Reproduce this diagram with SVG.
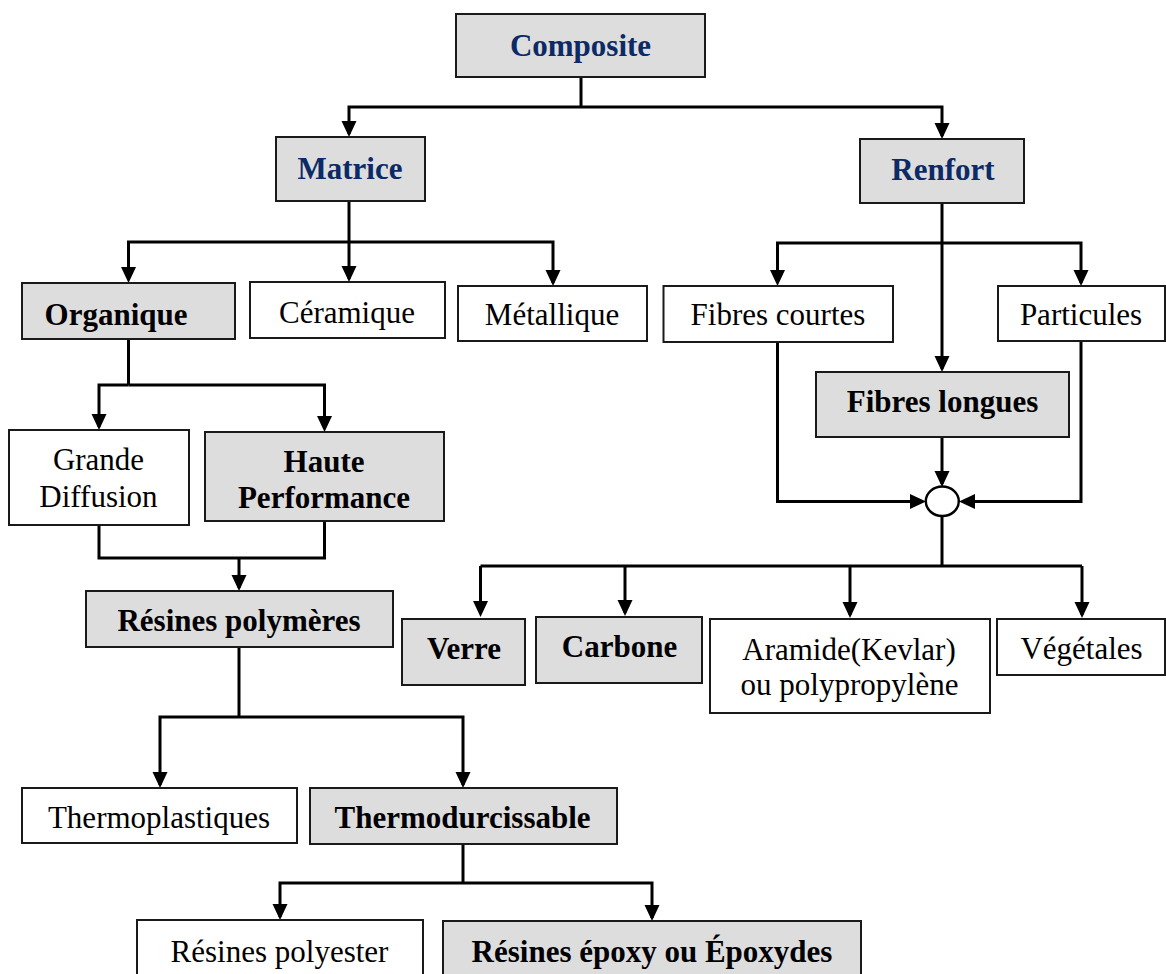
<svg xmlns="http://www.w3.org/2000/svg" width="1166" height="974" viewBox="0 0 1166 974">
<defs>
<marker id="arr" markerUnits="userSpaceOnUse" markerWidth="16" markerHeight="16" viewBox="0 0 16 16" refX="13" refY="8" orient="auto">
<path d="M0,0.5 L16,8 L0,15.5 z" fill="#000"/>
</marker>
<style>
.box{fill:#fff;stroke:#1a1a1a;stroke-width:2}
.g{fill:#dddddd}
.c{fill:none;stroke:#000;stroke-width:3}
.a{marker-end:url(#arr)}
text{font-family:"Liberation Serif","Times New Roman",serif;font-size:31px;fill:#000;text-anchor:middle}
.b{font-weight:bold}
.t{font-weight:bold;fill:#0b2a66}
</style>
</defs>
<rect width="1166" height="974" fill="#fff"/>
<g id="connectors">
<path class="c" d="M581,77 V107"/>
<path class="c a" d="M581,107 H349 V134"/>
<path class="c a" d="M581,107 H942 V136"/>
<path class="c" d="M349,201 V242"/>
<path class="c a" d="M349,242 H128.5 V280"/>
<path class="c a" d="M349,242 V279"/>
<path class="c a" d="M349,242 H553 V283"/>
<path class="c" d="M128.5,339 V385"/>
<path class="c a" d="M128.5,385 H99 V427"/>
<path class="c a" d="M128.5,385 H324.5 V429"/>
<path class="c" d="M99,525 V558 H324.5 V521"/>
<path class="c a" d="M239,558 V588"/>
<path class="c" d="M239,647 V717"/>
<path class="c a" d="M239,717 H160 V785"/>
<path class="c a" d="M239,717 H463 V785"/>
<path class="c" d="M463,844 V883"/>
<path class="c a" d="M463,883 H280 V917"/>
<path class="c a" d="M463,883 H652 V918"/>
<path class="c a" d="M942,203 V369"/>
<path class="c a" d="M942,243 H777.5 V283"/>
<path class="c a" d="M942,243 H1081 V283"/>
<path class="c a" d="M942,437 V484"/>
<path class="c a" d="M777.5,342 V501.5 H923"/>
<path class="c a" d="M1081,341 V501.5 H962"/>
<path class="c" d="M942,516 V566"/>
<path class="c" d="M480.5,566 H1082"/>
<path class="c a" d="M480.5,566 V614"/>
<path class="c a" d="M625,566 V613"/>
<path class="c a" d="M850,566 V615"/>
<path class="c a" d="M1082,566 V615"/>
<ellipse cx="942.3" cy="501.3" rx="16.5" ry="14.7" fill="#fff" stroke="#000" stroke-width="2.5"/>
</g>
<g id="composite"><rect class="box g" x="456" y="14" width="249" height="63"/><text class="t" x="580.5" y="56">Composite</text></g>
<g id="matrice"><rect class="box g" x="276" y="137" width="149" height="64"/><text class="t" x="350" y="179">Matrice</text></g>
<g id="renfort"><rect class="box g" x="860" y="139" width="164" height="64"/><text class="t" x="943" y="180">Renfort</text></g>
<g id="organique"><rect class="box g" x="22" y="283" width="213" height="56"/><text class="b" x="116" y="325">Organique</text></g>
<g id="ceramique"><rect class="box" x="250" y="282" width="195" height="56"/><text x="347" y="323">Céramique</text></g>
<g id="metallique"><rect class="box" x="458" y="286" width="189" height="55"/><text x="552" y="325">Métallique</text></g>
<g id="grande-diffusion"><rect class="box" x="9" y="430" width="180" height="95"/><text x="98.5" y="470">Grande</text><text x="98.5" y="507">Diffusion</text></g>
<g id="haute-performance"><rect class="box g" x="205" y="432" width="239" height="89"/><text class="b" x="324" y="472">Haute</text><text class="b" x="324" y="508">Performance</text></g>
<g id="resines-polymeres"><rect class="box g" x="86" y="591" width="307" height="56"/><text class="b" x="239" y="631">Résines polymères</text></g>
<g id="thermoplastiques"><rect class="box" x="22" y="788" width="275" height="55"/><text x="159" y="828">Thermoplastiques</text></g>
<g id="thermodurcissable"><rect class="box g" x="310" y="788" width="307" height="56"/><text class="b" x="462.6" y="828">Thermodurcissable</text></g>
<g id="resines-polyester"><rect class="box" x="137" y="920" width="286" height="64"/><text x="279.5" y="962">Résines polyester</text></g>
<g id="resines-epoxy"><rect class="box g" x="443" y="921" width="418" height="64"/><text class="b" x="652" y="962">Résines époxy ou Époxydes</text></g>
<g id="fibres-courtes"><rect class="box" x="663.5" y="286" width="229.5" height="56"/><text x="778" y="325">Fibres courtes</text></g>
<g id="particules"><rect class="box" x="998" y="286" width="167" height="55"/><text x="1081" y="325">Particules</text></g>
<g id="fibres-longues"><rect class="box g" x="816" y="372" width="253" height="65"/><text class="b" x="942.5" y="412">Fibres longues</text></g>
<g id="verre"><rect class="box g" x="402" y="619" width="123" height="66"/><text class="b" x="464" y="659">Verre</text></g>
<g id="carbone"><rect class="box g" x="536" y="617" width="166" height="66"/><text class="b" x="619.5" y="657">Carbone</text></g>
<g id="aramide"><rect class="box" x="710" y="619" width="280" height="94"/><text x="849" y="660">Aramide(Kevlar)</text><text x="849.5" y="695">ou polypropylène</text></g>
<g id="vegetales"><rect class="box" x="997" y="619" width="168" height="56"/><text x="1081.5" y="659">Végétales</text></g>
</svg>
